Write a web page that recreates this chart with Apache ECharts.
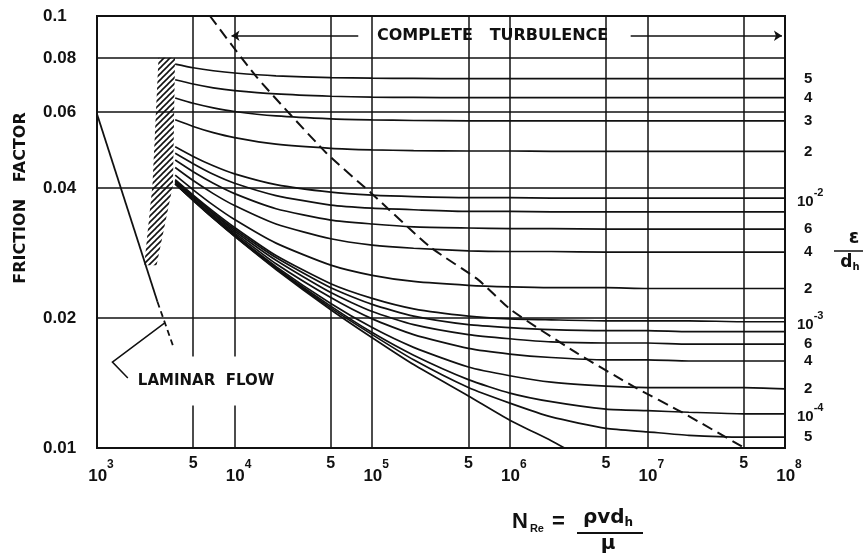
<!DOCTYPE html>
<html><head><meta charset="utf-8">
<script src="https://cdn.jsdelivr.net/npm/echarts@6/dist/echarts.min.js"></script>
<style>html,body{margin:0;padding:0;background:#fff}#c{width:863px;height:554px}</style>
</head><body><div id="c"></div>
<script>
// ---------------- data ----------------
const reynolds = [3700, 5000, 7000, 1e4, 2e4, 5e4, 1e5, 2e5, 5e5, 1e6, 2e6, 5e6, 1e7, 2e7, 5e7, 1e8];
const f_5e2 = [0.0774, 0.0759, 0.0747, 0.0738, 0.0727, 0.0720, 0.0718, 0.0717, 0.0716, 0.0716, 0.0716, 0.0716, 0.0716, 0.0716, 0.0716, 0.0716];
const f_4e2 = [0.0712, 0.0696, 0.0682, 0.0672, 0.0660, 0.0652, 0.0649, 0.0648, 0.0647, 0.0647, 0.0647, 0.0647, 0.0647, 0.0647, 0.0647, 0.0647];
const f_3e2 = [0.0646, 0.0628, 0.0613, 0.0601, 0.0587, 0.0578, 0.0575, 0.0573, 0.0572, 0.0572, 0.0572, 0.0572, 0.0572, 0.0572, 0.0572, 0.0572];
const f_2e2 = [0.0575, 0.0555, 0.0537, 0.0523, 0.0505, 0.0494, 0.0490, 0.0488, 0.0487, 0.0487, 0.0486, 0.0486, 0.0486, 0.0486, 0.0486, 0.0486];
const f_1e2 = [0.0498, 0.0473, 0.0450, 0.0431, 0.0407, 0.0391, 0.0385, 0.0382, 0.0380, 0.0380, 0.0379, 0.0379, 0.0379, 0.0379, 0.0379, 0.0379];
const f_8e3 = [0.0481, 0.0455, 0.0430, 0.0410, 0.0384, 0.0365, 0.0359, 0.0356, 0.0353, 0.0353, 0.0352, 0.0352, 0.0352, 0.0352, 0.0352, 0.0352];
const f_6e3 = [0.0464, 0.0436, 0.0410, 0.0388, 0.0358, 0.0337, 0.0330, 0.0325, 0.0323, 0.0322, 0.0322, 0.0321, 0.0321, 0.0321, 0.0321, 0.0321];
const f_4e3 = [0.0446, 0.0416, 0.0388, 0.0364, 0.0330, 0.0305, 0.0295, 0.0290, 0.0286, 0.0285, 0.0285, 0.0284, 0.0284, 0.0284, 0.0284, 0.0284];
const f_2e3 = [0.0428, 0.0396, 0.0365, 0.0338, 0.0298, 0.0265, 0.0251, 0.0243, 0.0238, 0.0236, 0.0235, 0.0235, 0.0234, 0.0234, 0.0234, 0.0234];
const f_1e3 = [0.0418, 0.0385, 0.0353, 0.0324, 0.0279, 0.0240, 0.0222, 0.0210, 0.0202, 0.0199, 0.0198, 0.0197, 0.0197, 0.0197, 0.0196, 0.0196];
const f_8e4 = [0.0416, 0.0383, 0.0350, 0.0321, 0.0276, 0.0235, 0.0215, 0.0202, 0.0193, 0.0190, 0.0188, 0.0187, 0.0187, 0.0186, 0.0186, 0.0186];
const f_6e4 = [0.0414, 0.0381, 0.0348, 0.0318, 0.0272, 0.0229, 0.0207, 0.0193, 0.0183, 0.0179, 0.0176, 0.0175, 0.0175, 0.0174, 0.0174, 0.0174];
const f_4e4 = [0.0412, 0.0378, 0.0345, 0.0315, 0.0267, 0.0223, 0.0199, 0.0183, 0.0170, 0.0165, 0.0162, 0.0160, 0.0160, 0.0159, 0.0159, 0.0159];
const f_2e4 = [0.0410, 0.0376, 0.0343, 0.0312, 0.0263, 0.0216, 0.0190, 0.0171, 0.0154, 0.0147, 0.0142, 0.0139, 0.0138, 0.0138, 0.0138, 0.0137];
const f_1e4 = [0.0409, 0.0375, 0.0341, 0.0310, 0.0261, 0.0213, 0.0185, 0.0164, 0.0144, 0.0134, 0.0128, 0.0123, 0.0122, 0.0121, 0.0120, 0.0120];
const f_5e5 = [0.0409, 0.0375, 0.0341, 0.0310, 0.0260, 0.0211, 0.0183, 0.0160, 0.0138, 0.0127, 0.0118, 0.0111, 0.0109, 0.0107, 0.0106, 0.0106];
const smoothRe = [3700, 5000, 7000, 1e4, 2e4, 5e4, 1e5, 2e5, 5e5, 1e6, 2e6, 2.5e6];
const smoothF  = [0.0408, 0.0374, 0.0340, 0.0309, 0.0259, 0.0209, 0.0180, 0.0156, 0.0132, 0.0116, 0.0104, 0.0100];
// right-hand roughness labels (epsilon / d_h), '' = unlabeled curve
const roughnessLabels = ['5', '4', '3', '2', '10^-2', '', '6', '4', '2', '10^-3', '', '6', '4', '2', '10^-4', '5'];

const laminarRe = [1000, 2750];
const laminarF = [0.0593, 0.0218];
const laminarDashRe = [2750, 3600];
const laminarDashF = [0.0218, 0.0171];

const turbulenceRe = [6620, 14430, 46400, 98400, 263800, 590900, 1016000, 3060000, 8200000, 17800000, 50800000];
const turbulenceF  = [0.1, 0.0723, 0.0482, 0.0389, 0.0292, 0.0245, 0.0209, 0.0166, 0.0138, 0.0121, 0.0100];

const hatchRe = [2800, 3690, 3565, 2711, 2204, 2530];
const hatchF  = [0.08, 0.08, 0.0406, 0.0265, 0.0265, 0.0406];

const leaderRe = [1675, 1294, 3108];
const leaderF  = [0.01452, 0.01581, 0.01948];
const laminarLabelAt = [6200, 0.01429];

const turbArrowLeftRe = [79200, 9500];
const turbArrowRightRe = [7.56e6, 9.5e7];
const turbArrowF = 0.09;
const turbLabelAt = [7.5e5, 0.09];

const xGridLines = [5e3, 1e4, 5e4, 1e5, 5e5, 1e6, 5e6, 1e7, 5e7];
const xFiveTicks = [5e3, 5e4, 5e5, 5e6, 5e7];
const yGridLines = [0.02, 0.04, 0.06, 0.08];
const yTickValues = [0.01, 0.02, 0.04, 0.06, 0.08, 0.1];

// ---------------- chart ----------------
const roughSeries = [f_5e2, f_4e2, f_3e2, f_2e2, f_1e2, f_8e3, f_6e3, f_4e3, f_2e3, f_1e3, f_8e4, f_6e4, f_4e4, f_2e4, f_1e4, f_5e5];
const INK = '#111';
const LAB = 'Liberation Sans';

function hatchPattern() {
  const c = document.createElement('canvas');
  c.width = 6; c.height = 6;
  const g = c.getContext('2d');
  g.strokeStyle = INK; g.lineWidth = 1.6;
  g.beginPath(); g.moveTo(-1, 7); g.lineTo(7, -1); g.stroke();
  g.beginPath(); g.moveTo(-1, 1); g.lineTo(1, -1); g.stroke();
  g.beginPath(); g.moveTo(5, 7); g.lineTo(7, 5); g.stroke();
  return { image: c, repeat: 'repeat' };
}

const chart = echarts.init(document.getElementById('c'), null, { renderer: 'canvas' });
const series = [];

// grid lines
series.push({
  type: 'line', data: [[1e3, 0.1]], symbol: 'none', silent: true, z: 1,
  lineStyle: { opacity: 0 },
  markLine: {
    silent: true, symbol: ['none', 'none'], animation: false,
    lineStyle: { color: INK, width: 1.5, type: 'solid' },
    label: { show: false },
    data: xGridLines.map(v => {
      const five = xFiveTicks.indexOf(v) >= 0;
      return {
        xAxis: v,
        label: five ? { show: true, position: 'start', formatter: '5', distance: 8,
          color: INK, fontSize: 16, fontWeight: 'bold', fontFamily: LAB } : { show: false }
      };
    }).concat(yGridLines.map(v => ({ yAxis: v })))
  }
});

// hatched critical zone
const pat = hatchPattern();
series.push({
  type: 'custom', silent: true, z: 2, clip: true,
  data: [[hatchRe[0], hatchF[0]]],
  renderItem: (params, api) => {
    const pts = hatchRe.map((r, i) => api.coord([r, hatchF[i]]));
    return { type: 'polygon', shape: { points: pts }, style: { fill: pat, stroke: null } };
  }
});

// roughness curves
roughSeries.forEach((arr, k) => {
  const lbl = roughnessLabels[k];
  const isPow = lbl.indexOf('10^') === 0;
  series.push({
    type: 'line', silent: true, z: 3,
    data: reynolds.map((r, i) => [r, arr[i]]),
    symbol: 'none', smooth: 0.2,
    lineStyle: { color: INK, width: 1.7 },
    endLabel: {
      show: lbl !== '',
      distance: isPow ? 12 : 19,
      color: INK,
      formatter: () => isPow ? '{b|10}{s|' + lbl.slice(3) + '}' : '{d|' + lbl + '}',
      rich: {
        b: { fontSize: 15, fontWeight: 'bold', fontFamily: LAB, color: INK, verticalAlign: 'bottom', lineHeight: 22 },
        s: { fontSize: 11, fontWeight: 'bold', fontFamily: LAB, color: INK, verticalAlign: 'top', lineHeight: 22 },
        d: { fontSize: 15, fontWeight: 'bold', fontFamily: LAB, color: INK }
      }
    }
  });
});

// smooth pipe
series.push({
  type: 'line', silent: true, z: 3, symbol: 'none', smooth: 0.2,
  data: smoothRe.map((r, i) => [r, smoothF[i]]),
  lineStyle: { color: INK, width: 1.7 }
});

// laminar line
series.push({
  type: 'line', silent: true, z: 3, symbol: 'none',
  data: laminarRe.map((r, i) => [r, laminarF[i]]),
  lineStyle: { color: INK, width: 1.8 }
});
series.push({
  type: 'line', silent: true, z: 3, symbol: 'none',
  data: laminarDashRe.map((r, i) => [r, laminarDashF[i]]),
  lineStyle: { color: INK, width: 1.8, type: [6, 4] }
});

// complete turbulence boundary
series.push({
  type: 'line', silent: true, z: 3, symbol: 'none', smooth: 0.2,
  data: turbulenceRe.map((r, i) => [r, turbulenceF[i]]),
  lineStyle: { color: INK, width: 2, type: [11, 6] }
});

// laminar flow leader arrow
series.push({
  type: 'lines', coordinateSystem: 'cartesian2d', polyline: true, silent: true, z: 5,
  symbol: ['none', 'arrow'], symbolSize: 9,
  lineStyle: { color: INK, width: 1.5, opacity: 1 },
  data: [{ coords: leaderRe.map((r, i) => [r, leaderF[i]]) }]
});
// complete turbulence arrows
[turbArrowLeftRe, turbArrowRightRe].forEach(a => {
  series.push({
    type: 'lines', coordinateSystem: 'cartesian2d', silent: true, z: 5,
    symbol: ['none', 'arrow'], symbolSize: 8,
    lineStyle: { color: INK, width: 1.6, opacity: 1 },
    data: [{ coords: [[a[0], turbArrowF], [a[1], turbArrowF]] }]
  });
});

// annotation texts, anchored in data coordinates
const annotations = [
  { at: laminarLabelAt, text: 'LAMINAR  FLOW', font: 'bold 15px "DejaVu Sans"', bg: '#fff', pad: [18, 3, 16, 3] },
  { at: turbLabelAt, text: 'COMPLETE   TURBULENCE', font: 'bold 16px "DejaVu Sans"', bg: null, pad: 0 }
];
series.push({
  type: 'custom', silent: true, z: 6, clip: false,
  data: annotations.map(a => a.at),
  renderItem: (params, api) => {
    const a = annotations[params.dataIndex];
    const p = api.coord([api.value(0), api.value(1)]);
    return {
      type: 'text', x: p[0], y: p[1],
      style: { text: a.text, font: a.font, fill: INK, align: 'center', verticalAlign: 'middle',
        backgroundColor: a.bg, padding: a.pad }
    };
  }
});

chart.setOption({
  animation: false,
  backgroundColor: '#fff',
  grid: { left: 97, right: 78, top: 16, bottom: 106, show: true, borderColor: INK, borderWidth: 2, backgroundColor: 'transparent' },
  xAxis: {
    type: 'log', logBase: 10, min: 1e3, max: 1e8,
    axisLine: { show: false }, axisTick: { show: false }, splitLine: { show: false },
    axisLabel: {
      margin: 11, padding: [0, 0, 0, 8],
      formatter: v => '{b|10}{s|' + Math.round(Math.log10(v)) + '}',
      rich: {
        b: { fontSize: 17, fontWeight: 'bold', fontFamily: LAB, color: INK, verticalAlign: 'bottom', lineHeight: 26 },
        s: { fontSize: 12, fontWeight: 'bold', fontFamily: LAB, color: INK, verticalAlign: 'top', lineHeight: 26 }
      }
    }
  },
  yAxis: {
    type: 'log', logBase: 10, min: 0.01, max: 0.1,
    axisLine: { show: false }, axisTick: { show: false }, splitLine: { show: false },
    axisLabel: {
      customValues: yTickValues,
      margin: 54, align: 'left',
      color: INK, fontSize: 17, fontWeight: 'bold', fontFamily: LAB,
      formatter: v => String(parseFloat(Number(v).toPrecision(3)))
    }
  },
  graphic: [
    { type: 'text', x: 21, y: 198, rotation: Math.PI / 2,
      style: { text: 'FRICTION   FACTOR', fill: INK, font: 'bold 16px "DejaVu Sans"', align: 'center', verticalAlign: 'middle' } },
    { type: 'text', x: 512, y: 522,
      style: { text: '{n|N}{r|Re}{e| =}', verticalAlign: 'middle', align: 'left',
        rich: {
          n: { fontSize: 22, fontWeight: 'bold', fontFamily: LAB, fill: INK, verticalAlign: 'middle' },
          r: { fontSize: 11, fontWeight: 'bold', fontFamily: LAB, fill: INK, padding: [14, 0, 0, 2] },
          e: { fontSize: 22, fontWeight: 'bold', fontFamily: LAB, fill: INK, padding: [0, 0, 0, 2] }
        } } },
    { type: 'text', x: 608, y: 518,
      style: { text: '{t|ρvd}{h|h}', align: 'center', verticalAlign: 'middle',
        rich: {
          t: { fontSize: 20, fontWeight: 'bold', fontFamily: 'DejaVu Sans', fill: INK },
          h: { fontSize: 12, fontWeight: 'bold', fontFamily: 'DejaVu Sans', fill: INK, padding: [10, 0, 0, 0] }
        } } },
    { type: 'line', shape: { x1: 577, y1: 533, x2: 643, y2: 533 }, style: { stroke: INK, lineWidth: 2 } },
    { type: 'text', x: 608, y: 544,
      style: { text: 'μ', fill: INK, font: 'bold 20px "DejaVu Sans"', align: 'center', verticalAlign: 'middle' } },
    { type: 'text', x: 854, y: 238,
      style: { text: 'ε', fill: INK, font: 'bold 19px "DejaVu Sans"', align: 'center', verticalAlign: 'middle' } },
    { type: 'line', shape: { x1: 834, y1: 251, x2: 863, y2: 251 }, style: { stroke: INK, lineWidth: 1.5 } },
    { type: 'text', x: 850, y: 263,
      style: { text: '{d|d}{h|h}', align: 'center', verticalAlign: 'middle',
        rich: {
          d: { fontSize: 17, fontWeight: 'bold', fontFamily: 'DejaVu Sans', fill: INK },
          h: { fontSize: 10, fontWeight: 'bold', fontFamily: 'DejaVu Sans', fill: INK, padding: [8, 0, 0, 0] }
        } } }
  ],
  series: series
});
</script>
</body></html>
